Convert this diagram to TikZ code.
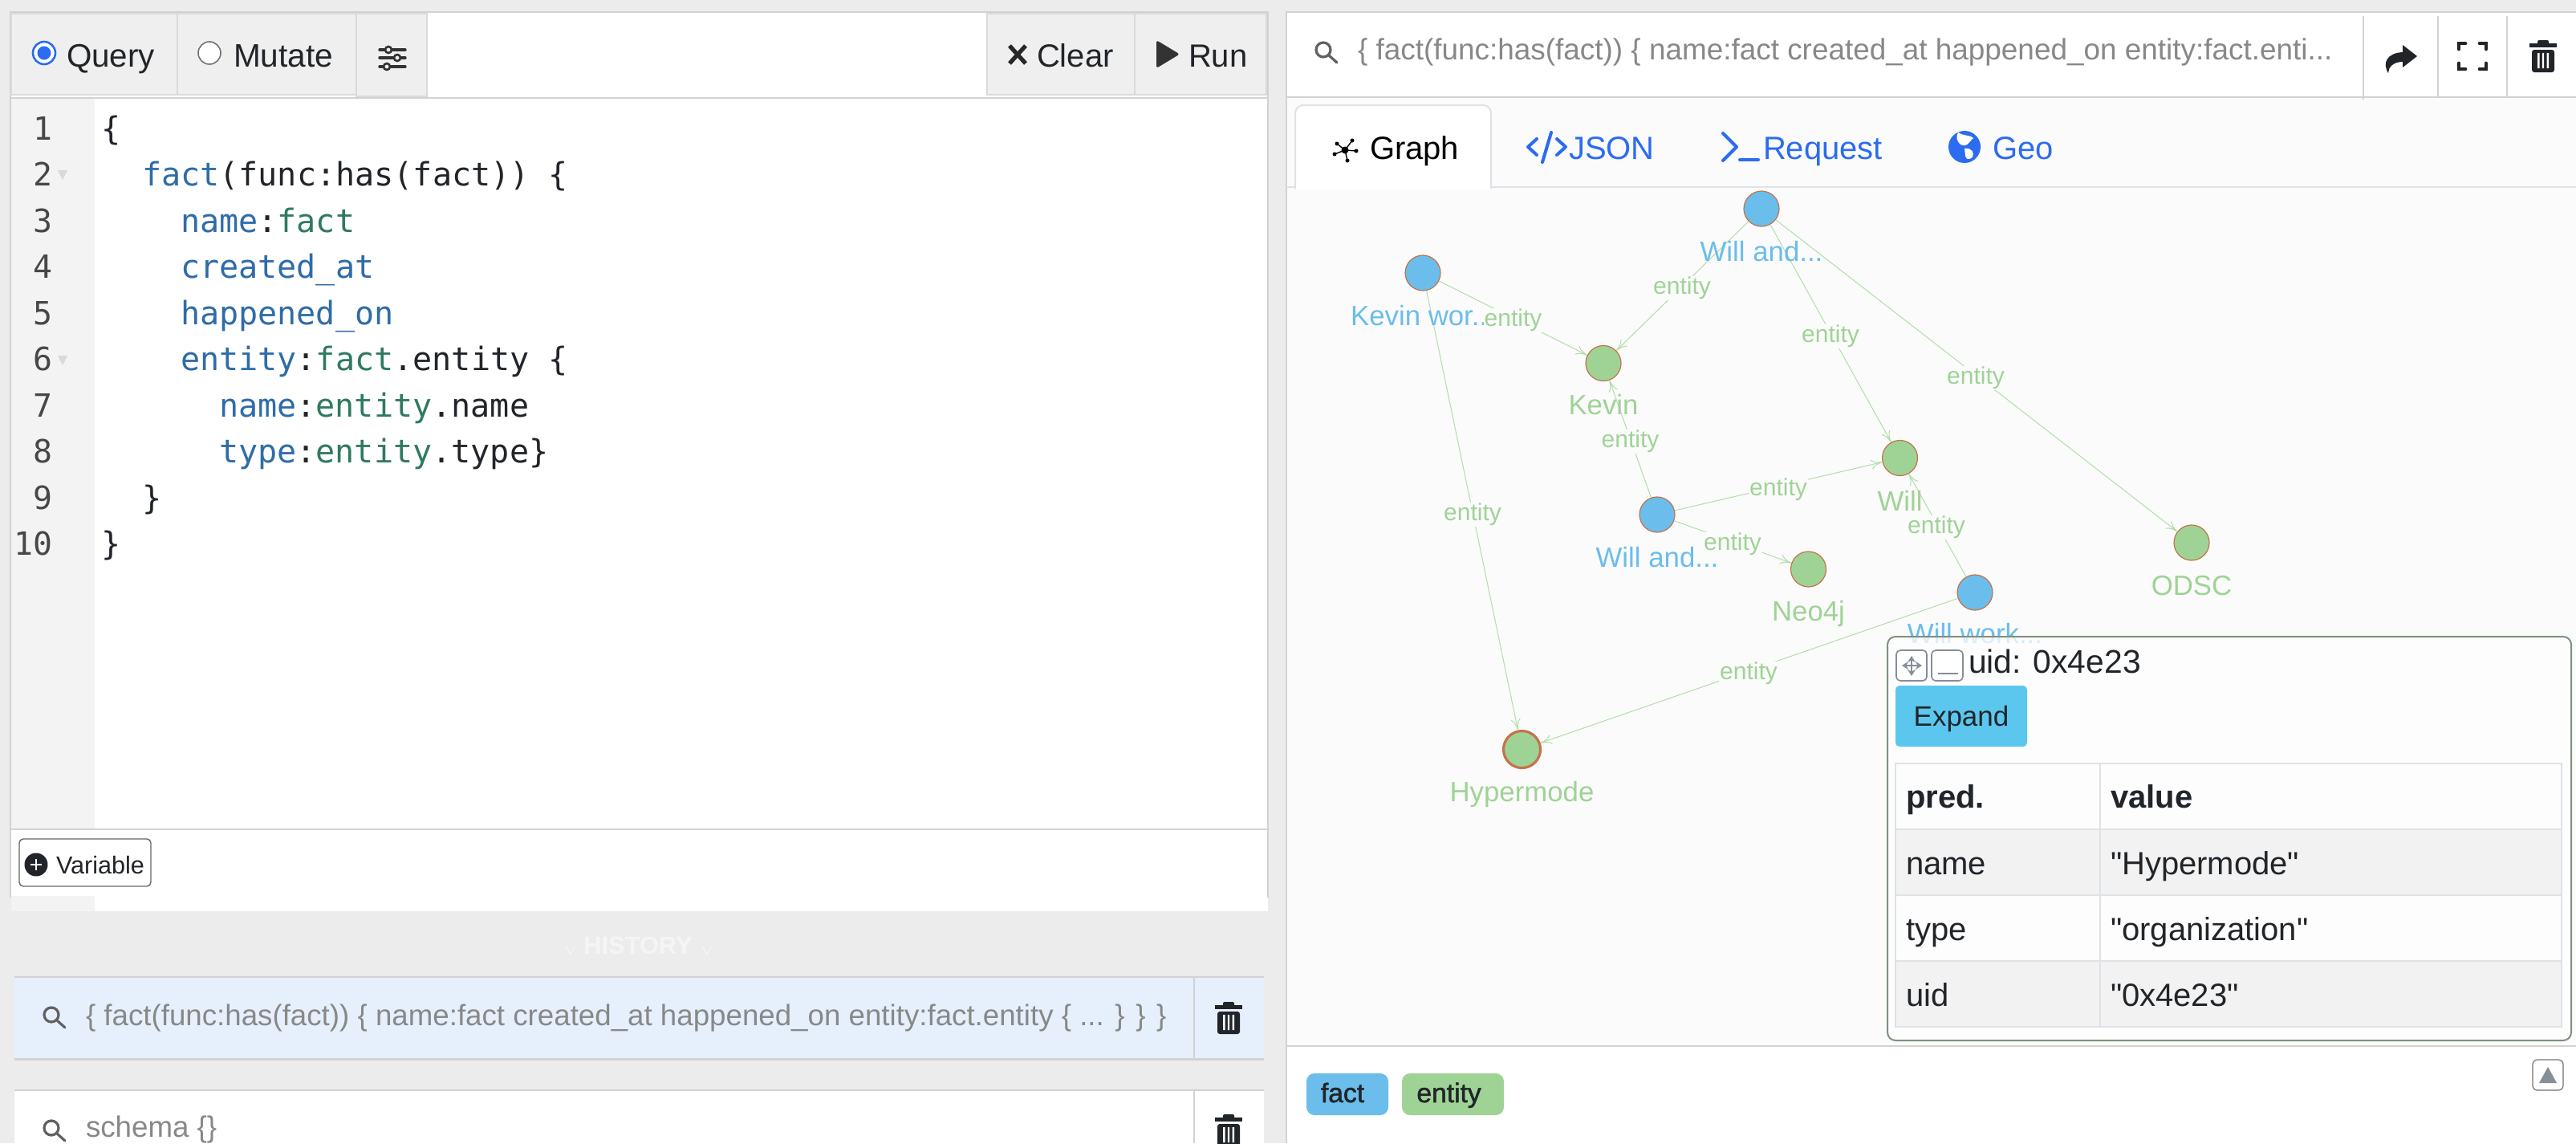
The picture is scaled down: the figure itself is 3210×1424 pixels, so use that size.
\documentclass[tikz,border=0pt]{standalone}
\usepackage{fontspec}
\setmainfont{Liberation Sans}
\setmonofont{DejaVu Sans Mono}
\newfontfamily\semifont[FakeBold=1.5]{Liberation Sans}
\newfontfamily\quotefont[Ligatures=NoCommon]{Liberation Sans}
\usetikzlibrary{arrows.meta}
\definecolor{pagebg}{HTML}{ECECEC}
\definecolor{btnbg}{HTML}{EFEFEF}
\definecolor{btnline}{HTML}{DADADA}
\definecolor{rulegray}{HTML}{D2D2D2}
\definecolor{gutter}{HTML}{F3F3F3}
\definecolor{graphbg}{HTML}{FBFBFB}
\definecolor{propblue}{HTML}{2F6CA8}
\definecolor{vargreen}{HTML}{2F7A5F}
\definecolor{ink}{HTML}{212529}
\definecolor{mutedtxt}{HTML}{888888}
\definecolor{linkblue}{HTML}{2B6CF0}
\definecolor{factblue}{HTML}{6BBDEB}
\definecolor{entgreen}{HTML}{9FD396}
\definecolor{edgegreen}{HTML}{B2DDAA}
\definecolor{nodeline}{HTML}{C4734A}
\definecolor{tableline}{HTML}{DEE2E6}
\definecolor{stripe}{HTML}{F2F2F2}
\definecolor{histblue}{HTML}{E6F0FD}
\definecolor{popupln}{HTML}{7F917F}
\definecolor{expandc}{HTML}{5BC7EF}
\definecolor{tricol}{HTML}{868E96}
\newcommand\fsz[1]{\fontsize{#1}{#1}\selectfont}
\newcommand\pk[1]{\textcolor{propblue}{#1}}
\newcommand\vg[1]{\textcolor{vargreen}{#1}}
\newcommand\dq{{\quotefont\char34\relax}}
\newcommand\lens[2]{\draw[draw=black!62,line width=1.6pt,line cap=round] (#1,#2) circle (9) (#1+7,#2+7) -- (#1+17,#2+16);}
\newcommand\trashcan[2]{\begin{scope}[shift={(#1,#2)}]
 \fill[ink,rounded corners=1pt] (-7,-20) rectangle (7,-14);
 \fill[ink] (-17,-16) rectangle (17,-11);
 \fill[ink,rounded corners=1.5pt] (-14,-8) rectangle (14,20);
 \fill[white] (-7,-4) rectangle (-4.5,15) (-1.2,-4) rectangle (1.2,15) (4.5,-4) rectangle (7,15);
\end{scope}}
\tikzset{
 base/.style={inner sep=0pt,outer sep=0pt,anchor=base west},
 ui/.style={base,font=\fsz{20},text=ink},
 code/.style={base,font=\ttfamily\fsz{20.05},text=ink},
 lnum/.style={inner sep=0pt,outer sep=0pt,anchor=base east,font=\ttfamily\fsz{19.9},text=black!72},
 muted/.style={base,font=\fsz{18.45},text=mutedtxt},
 tabbtn/.style={fill=btnbg,draw=btnline,line width=1.3pt},
 gnode/.style={circle,minimum size=22pt,inner sep=0pt,draw=nodeline,line width=.6pt},
 fact/.style={gnode,fill=factblue},
 ent/.style={gnode,fill=entgreen},
 factlab/.style={inner sep=0pt,anchor=base,font=\fsz{17.4},text=factblue},
 entlab/.style={inner sep=0pt,anchor=base,font=\fsz{17.4},text=entgreen},
 elab/.style={inner sep=.5pt,anchor=base,font=\fsz{15},text=entgreen,fill=graphbg},
 edge/.style={draw=edgegreen,line width=.5pt,-{To[length=7pt,width=6pt]}},
 cell/.style={base,font=\fsz{20},text=ink},
 legtxt/.style={inner sep=0pt,anchor=base,font=\semifont\fsz{16.8},text=ink},
 tabicon/.style={draw=linkblue,line width=2pt,line cap=round,line join=round},
 popbtn/.style={draw=tricol,fill=white,line width=.8pt,rounded corners=2.5pt},
}
\begin{document}
\begin{tikzpicture}[x=0.5pt,y=-0.5pt]
\useasboundingbox (0,0) rectangle (3210,1424);
\fill[pagebg] (0,0) rectangle (3210,1424);

% ---------- left panel
\fill[white] (14,16) rectangle (1580,1135);
\fill[gutter] (14,122) rectangle (118,1033);
\fill[gutter] (14,1116) rectangle (118,1135);
\draw[rulegray,line width=1pt] (13,1118) -- (13,15) -- (1580,15) -- (1580,1118);
\draw[tabbtn] (14,17) rectangle (221,118);
\draw[tabbtn] (221,17) rectangle (444,118);
\draw[tabbtn] (444,17) rectangle (532,120);
\draw[tabbtn] (1230,17) rectangle (1414,118);
\draw[tabbtn] (1414,17) rectangle (1578,118);
\draw[rulegray,line width=1pt] (14,122) -- (1580,122);
\draw[rulegray,line width=1pt] (14,1033) -- (1580,1033);
% radios
\draw[linkblue,fill=white,line width=1.3pt] (55,66) circle (14);
\fill[linkblue] (55,66) circle (8.5);
\draw[black!55,fill=white,line width=.8pt] (261,66) circle (14);
\node[ui,font=\fsz{20.2}] (lbquery) at (83,83) {Query};
\node[ui,font=\fsz{20.3}] (lbmutate) at (291,83) {Mutate};
\node[ui] (lbclear) at (1292,83) {Clear};
\node[ui] (lbrun) at (1481,83) {Run};
% settings icon
\draw[black!80,line width=1.7pt,line cap=round] (473,62) -- (505,62) (473,72) -- (505,72) (473,83) -- (505,83);
\draw[black!80,fill=btnbg,line width=1.3pt] (484,62) circle (4) (495,72) circle (4) (482,83) circle (4);
% clear x, run triangle
\draw[black!85,line width=2.6pt] (1258,57) -- (1278,79) (1278,57) -- (1258,79);
\fill[black!80,rounded corners=1.5pt] (1441,50) -- (1470,67.5) -- (1441,85) -- cycle;
% line numbers
\foreach \n [count=\i from 0] in {1,...,10}
  \node[lnum] (ln\n) at (65,174.4+57.5*\i) {\n};
\fill[black!15] (72,212) -- (84,212) -- (78,224) -- cycle;
\fill[black!15] (72,443) -- (84,443) -- (78,455) -- cycle;
% code
\node[code] (c1) at (126,174.4) {\{};
\node[code] (c2) at (177,231.9) {\pk{fact}(func:has(fact)) \{};
\node[code] (c3) at (225,289.4) {\pk{name}:\vg{fact}};
\node[code] (c4) at (225,346.9) {\pk{created\_at}};
\node[code] (c5) at (225,404.4) {\pk{happened\_on}};
\node[code] (c6) at (225,461.9) {\pk{entity}:\vg{fact}.entity \{};
\node[code] (c7) at (273,519.4) {\pk{name}:\vg{entity}.name};
\node[code] (c8) at (273,576.9) {\pk{type}:\vg{entity}.type\}};
\node[code] (c9) at (177,634.4) {\}};
\node[code] (c10) at (126,691.9) {\}};
% variable
\draw[black!60,fill=white,line width=.7pt,rounded corners=2.5pt] (24,1045) rectangle (188,1104);
\fill[ink] (45,1077) circle (14.5);
\draw[white,line width=1.2pt] (38,1077) -- (52,1077) (45,1070) -- (45,1084);
\node[base,font=\fsz{15.3},text=ink] (varbtn) at (70,1088) {Variable};
% history
\node[inner sep=0pt,anchor=base,font=\bfseries\fsz{15.4},text=black!4] (histlab) at (795,1188) {HISTORY};
\draw[black!4,line width=.6pt] (705,1179) -- (711,1188) -- (717,1179) (875,1179) -- (881,1188) -- (887,1179);
\fill[rulegray] (18,1216) rectangle (1575,1321);
\fill[histblue] (18,1218) rectangle (1575,1318);
\draw[rulegray,line width=.6pt] (1488,1218) -- (1488,1318);
\lens{64}{1264}
\node[muted,font=\fsz{18.35}] (hist1) at (107,1277) {\{ fact(func:has(fact)) \{ name:fact created\_at happened\_on entity:fact.entity \{ ... \} \} \}};
\trashcan{1531}{1268}
\fill[rulegray] (18,1357) rectangle (1575,1424);
\fill[white] (18,1359) rectangle (1575,1424);
\draw[rulegray,line width=.6pt] (1488,1359) -- (1488,1424);
\lens{64}{1405}
\node[muted,font=\fsz{18.35}] (hist2) at (107,1416) {schema \{\}};
\trashcan{1531}{1408}

% ---------- right panel
\fill[white] (1603,16) rectangle (3210,122);
\fill[graphbg] (1603,122) rectangle (3210,1302);
\fill[white] (1603,1302) rectangle (3210,1424);
\draw[rulegray,line width=1pt] (1603,1424) -- (1603,15) -- (3210,15);
\draw[rulegray,line width=1.2pt] (1603,121) -- (3210,121);
\draw[rulegray,line width=.6pt] (2945,20) -- (2945,124) (3038,20) -- (3038,121) (3124,20) -- (3124,121);
\lens{1649}{62}
\node[muted] (hdr) at (1692,74) {\{ fact(func:has(fact)) \{ name:fact created\_at happened\_on entity:fact.enti...};
\fill[ink] (3012,70) -- (2994,56) -- (2994,65) .. controls (2975,66) and (2968,78) .. (2976,91) .. controls (2976,84) and (2982,77) .. (2994,77) -- (2994,84) -- cycle;
\draw[ink,line width=2.4pt,line cap=round] (3064,61) -- (3064,54) -- (3072,54) (3090,54) -- (3098,54) -- (3098,61) (3098,79) -- (3098,86) -- (3090,86) (3072,86) -- (3064,86) -- (3064,79);
\trashcan{3169}{70}
% tabs
\draw[tableline,line width=1pt] (1603,233) -- (3210,233);
\draw[tableline,fill=white,line width=1pt,rounded corners=5pt] (1614,235) -- (1614,131) -- (1858,131) -- (1858,235);
\fill[white] (1615,231) rectangle (1857,236);
\draw[black,line width=.7pt] (1676,187) -- (1685,175) (1676,187) -- (1666,179) (1676,187) -- (1663,192) (1676,187) -- (1679,200) (1676,187) -- (1690,188);
\fill[black] (1676,187) circle (4.5) (1685,175) circle (2.5) (1666,179) circle (2.5) (1663,192) circle (2.5) (1679,200) circle (2.5) (1690,188) circle (2.5);
\node[base,font=\fsz{20},text=black] (tgraph) at (1707,198) {Graph};
\draw[tabicon] (1915,173) -- (1904,183) -- (1915,193) (1940,173) -- (1951,183) -- (1940,193) (1933,165) -- (1922,202);
\node[base,font=\fsz{20},text=linkblue] (tjson) at (1955,198) {JSON};
\draw[tabicon] (2147,166) -- (2164,183) -- (2147,200);
\draw[tabicon] (2168,199) -- (2191,199);
\node[base,font=\fsz{20},text=linkblue] (treq) at (2197,198) {Request};
\fill[linkblue] (2448,183) circle (20);
\fill[white] (2440,165) .. controls (2448,170) and (2456,168) .. (2459,172) .. controls (2452,178) and (2452,184) .. (2443,180) .. controls (2438,176) and (2437,170) .. (2440,165) -- cycle;
\fill[white] (2448,185) .. controls (2458,184) and (2460,190) .. (2458,196) .. controls (2452,200) and (2450,198) .. (2449,194) -- cycle;
\node[base,font=\fsz{20},text=linkblue] (tgeo) at (2483,198) {Geo};

% ---------- graph
\node[fact] (na) at (2195,260) {};
\node[fact] (nb) at (1773,340) {};
\node[ent] (kevin) at (1998,452.5) {};
\node[ent] (will) at (2367.5,570.5) {};
\node[fact] (nc) at (2065,641) {};
\node[ent] (neo) at (2253.5,709) {};
\node[fact] (nd) at (2461,738) {};
\node[ent] (odsc) at (2731,676) {};
\node[ent,minimum size=23pt,line width=1.6pt] (hyper) at (1896.5,933.5) {};
\draw[edge] (na) -- (kevin);
\draw[edge] (nb) -- (kevin);
\draw[edge] (na) -- (will);
\draw[edge] (na) -- (odsc);
\draw[edge] (nc) -- (kevin);
\draw[edge] (nc) -- (will);
\draw[edge] (nc) -- (neo);
\draw[edge] (nd) -- (will);
\draw[edge] (nb) -- (hyper);
\draw[edge] (nd) -- (hyper);
\node[factlab] (la) at (2195,325) {Will and...};
\node[factlab] (lb) at (1773,405) {Kevin wor...};
\node[factlab] (lc) at (2065,706) {Will and...};
\node[factlab] (ld) at (2461,801) {Will work...};
\node[entlab] (lkevin) at (1998,516.5) {Kevin};
\node[entlab] (lwill) at (2367.5,636) {Will};
\node[entlab] (lneo) at (2253.5,773) {Neo4j};
\node[entlab] (lodsc) at (2731,741) {ODSC};
\node[entlab] (lhyper) at (1896.5,998) {Hypermode};
\node[elab] (e1) at (2096,366.6) {entity};
\node[elab] (e2) at (1885.5,406.6) {entity};
\node[elab] (e3) at (2281,426.6) {entity};
\node[elab] (e4) at (2462,478.6) {entity};
\node[elab] (e5) at (2031.5,557.6) {entity};
\node[elab] (e6) at (2216,617.6) {entity};
\node[elab] (e7) at (2159,685.6) {entity};
\node[elab] (e8) at (2413,664.6) {entity};
\node[elab] (e9) at (1835,648.6) {entity};
\node[elab] (e10) at (2179,846.6) {entity};

% ---------- popup
\fill[white,fill opacity=.75,rounded corners=5pt] (2352,793) rectangle (3204,1296);
\draw[popupln,line width=1pt,rounded corners=5pt] (2352,793) rectangle (3204,1296);
\draw[popbtn] (2363,810) rectangle (2401,848);
\draw[popbtn] (2407,810) rectangle (2446,848);
\draw[tricol,line width=1pt,{Stealth[length=4pt,width=5pt]}-{Stealth[length=4pt,width=5pt]}] (2370,829) -- (2395,829);
\draw[tricol,line width=1pt,{Stealth[length=4pt,width=5pt]}-{Stealth[length=4pt,width=5pt]}] (2382,817) -- (2382,842);
\draw[tricol,line width=1pt] (2415,839) -- (2440,839);
\node[cell,font=\fsz{20.4}] (uidt) at (2453,838) {uid: 0x4e23};
\fill[expandc,rounded corners=2.5pt] (2362,854) rectangle (2526,930);
\node[inner sep=0pt,anchor=base,font=\fsz{17.5},text=ink] (expand) at (2444,904) {Expand};
\fill[stripe] (2362,1033) rectangle (3192,1115);
\fill[stripe] (2362,1197) rectangle (3192,1279);
\draw[tableline,line width=1pt] (2362,951) rectangle (3192,1279);
\draw[tableline,line width=1pt] (2362,1033) -- (3192,1033) (2362,1115) -- (3192,1115) (2362,1197) -- (3192,1197) (2617,951) -- (2617,1279);
\node[cell,font=\bfseries\fsz{20}] (tp) at (2375,1006) {pred.};
\node[cell,font=\bfseries\fsz{20}] (tv) at (2630,1006) {value};
\node[cell] (t1) at (2375,1089) {name};
\node[cell] (t2) at (2630,1089) {\dq Hypermode\dq};
\node[cell] (t3) at (2375,1171) {type};
\node[cell] (t4) at (2630,1171) {\dq organization\dq};
\node[cell] (t5) at (2375,1253) {uid};
\node[cell] (t6) at (2630,1253) {\dq 0x4e23\dq};

% ---------- footer
\draw[rulegray,line width=1.2pt] (1603,1303) -- (3210,1303);
\fill[factblue,rounded corners=5pt] (1628,1337) rectangle (1730,1389);
\fill[entgreen,rounded corners=5pt] (1747,1337) rectangle (1874,1389);
\node[legtxt] (lgf) at (1673,1373) {fact};
\node[legtxt] (lge) at (1805.5,1373) {entity};
\draw[black!55,fill=white,line width=.6pt,rounded corners=3pt] (3156,1320) rectangle (3194,1358);
\fill[tricol] (3175,1329) -- (3186,1349) -- (3164,1349) -- cycle;
\end{tikzpicture}
\end{document}
